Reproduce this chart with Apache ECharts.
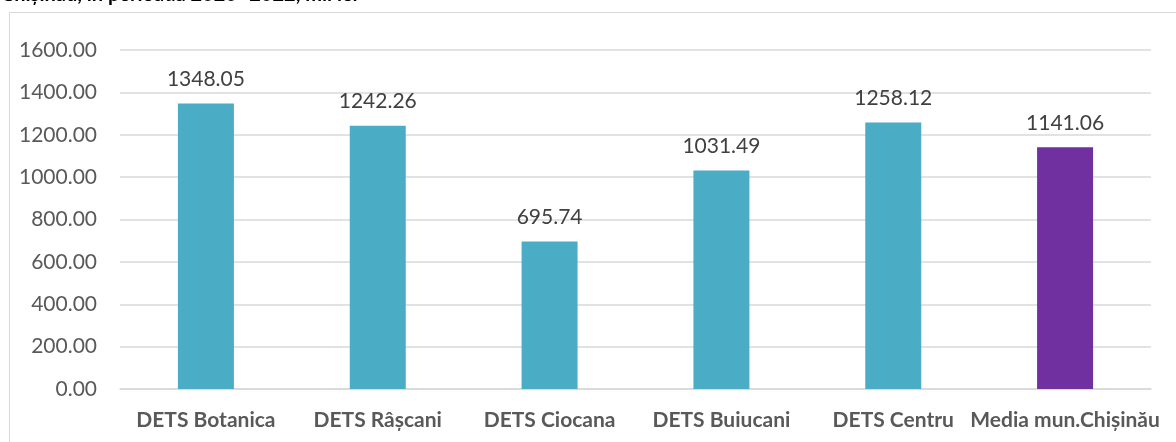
<!DOCTYPE html>
<html>
<head>
<meta charset="utf-8">
<script src="https://cdn.jsdelivr.net/npm/echarts@6/dist/echarts.min.js"></script>
<style>
html,body{margin:0;padding:0;background:#fff;overflow:hidden;}
#c{width:1176px;height:442px;}
</style>
</head>
<body>
<div id="c"></div>
<script>
const categories = ['DETS Botanica', 'DETS Râșcani', 'DETS Ciocana', 'DETS Buiucani', 'DETS Centru', 'Media mun.Chișinău'];
const values = [1348.05, 1242.26, 695.74, 1031.49, 1258.12, 1141.06];
const barColors = ['#4BACC6', '#4BACC6', '#4BACC6', '#4BACC6', '#4BACC6', '#7030A0'];
const titleText = 'Chișinău, în perioada 2020- 2022, mii lei';

const chart = echarts.init(document.getElementById('c'), null, {renderer: 'canvas'});
const font = 'Lato, "Open Sans", sans-serif';
chart.setOption({
  animation: false,
  graphic: [
    {type: 'rect', shape: {x: 9.5, y: 12.5, width: 1200, height: 460}, style: {fill: 'none', stroke: '#D9D9D9', lineWidth: 1}},
    {type: 'text', left: 1, top: -15, style: {text: titleText, font: 'bold 20px ' + font, fill: '#000'}}
  ],
  grid: {left: 120, right: 25, top: 50, bottom: 53, containLabel: false},
  xAxis: {
    type: 'category', data: categories,
    axisLine: {lineStyle: {color: '#D9D9D9', width: 1.5}}, axisTick: {show: false},
    axisLabel: {color: '#595959', fontSize: 21, fontWeight: 'bold', fontFamily: font, margin: 21, interval: 0}
  },
  yAxis: {
    type: 'value', min: 0, max: 1600, interval: 200,
    axisLine: {show: false}, axisTick: {show: false},
    splitLine: {lineStyle: {color: '#D9D9D9', width: 1.5}},
    axisLabel: {color: '#595959', fontSize: 21, fontFamily: font, margin: 23, formatter: v => v.toFixed(2)}
  },
  series: [{
    type: 'bar', barWidth: 56,
    data: values.map((v, i) => ({value: v, itemStyle: {color: barColors[i]}})),
    label: {show: true, position: 'top', distance: 14, color: '#404040', fontSize: 21, fontFamily: font, formatter: p => p.value.toFixed(2)}
  }]
});
</script>
</body>
</html>
